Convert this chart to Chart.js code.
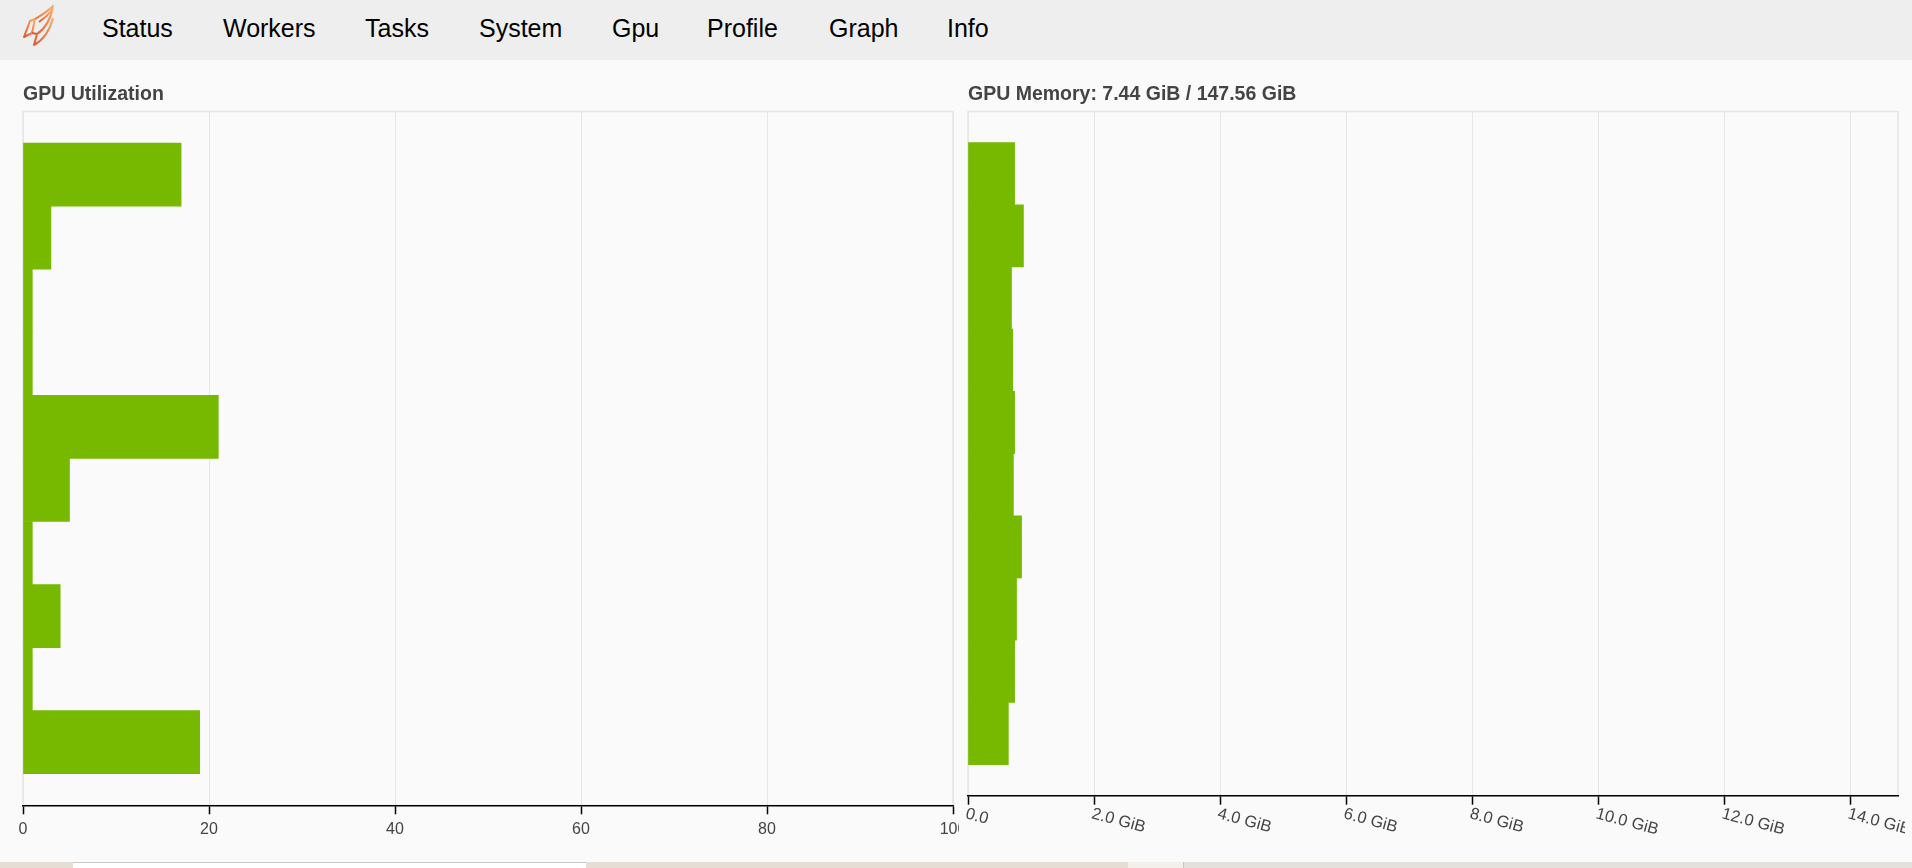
<!DOCTYPE html>
<html>
<head>
<meta charset="utf-8">
<title>Dask GPU</title>
<script src="https://cdn.jsdelivr.net/npm/chart.js@4"></script>
<style>
  html, body { margin: 0; padding: 0; }
  body {
    width: 1912px; height: 868px; overflow: hidden; position: relative;
    background: #fafafa; font-family: "Liberation Sans", Arial, sans-serif;
  }
  #nav { position: absolute; left: 0; top: 0; width: 1912px; height: 60px; background: #eeeeee; }
  #nav a { position: absolute; top: 0; line-height: 56px; font-size: 25px; color: #000; text-decoration: none; }
  #logo { position: absolute; left: 20px; top: 4px; }
  .panel { position: absolute; top: 60px; height: 802px; }
  #left { left: 0; width: 959px; }
  #right { left: 959px; width: 946px; }
  #strip { position: absolute; left: 0; top: 862px; width: 1912px; height: 6px; background: #e6ddd4; }
  #strip .box1 { position: absolute; left: 73px; top: 0; width: 513px; height: 6px; background: #fff; border-top: 1px solid #c9c9c9; box-sizing: border-box; }
  #strip .box2 { position: absolute; left: 1128px; top: 0; width: 55px; height: 6px; background: #f3efeb; }
  #strip .box3 { position: absolute; left: 1183px; top: 0; width: 729px; height: 6px; background: #e4e0dc; border-left: 1px solid #c9c9c9; }
</style>
</head>
<body>
<div id="nav">
  <svg id="logo" width="40" height="46" viewBox="0 0 40 46">
    <defs>
      <linearGradient id="lg" x1="0" y1="1" x2="1" y2="0">
        <stop offset="0" stop-color="#e2552e"/>
        <stop offset="1" stop-color="#f5b06a"/>
      </linearGradient>
    </defs>
    <g fill="none" stroke="url(#lg)" stroke-width="2" stroke-linejoin="round">
      <path d="M10,17 L4,33 L12,29 L15,15 Z"/>
      <path d="M15,15 C22,11 28,7 33,2 C31,14 26,24 17,30 L12,29"/>
      <path d="M17,30 L14,41 C23,36 30,26 33,14"/>
      <path d="M19,18 C25,14 29,10 32,6"/>
    </g>
  </svg>
  <a style="left:102px">Status</a>
  <a style="left:223px">Workers</a>
  <a style="left:365px">Tasks</a>
  <a style="left:479px">System</a>
  <a style="left:612px">Gpu</a>
  <a style="left:707px">Profile</a>
  <a style="left:829px">Graph</a>
  <a style="left:947px">Info</a>
</div>

<div class="panel" id="left"><canvas id="utilChart"></canvas></div>
<div class="panel" id="right"><canvas id="memChart"></canvas></div>

<div id="strip"><div class="box1"></div><div class="box2"></div><div class="box3"></div></div>

<script>
// GPU indices, top to bottom
const gpus = [0, 1, 2, 3, 4, 5, 6, 7, 8, 9];
// utilization in percent
const utilization = [17, 3, 1, 1, 21, 5, 1, 4, 1, 19];
// memory used per GPU, GiB
const memoryGiB = [0.74, 0.88, 0.69, 0.71, 0.74, 0.72, 0.85, 0.77, 0.74, 0.64];
const memUsed = 7.44;
const memTotal = 147.56;
const memPerGpu = 14.756;
const utilTickStep = 20;
const memTickLabels = ["0.0", "2.0 GiB", "4.0 GiB", "6.0 GiB", "8.0 GiB", "10.0 GiB", "12.0 GiB", "14.0 GiB"];

const fontFamily = '"Liberation Sans", Arial, sans-serif';
const green = "#76b900";

// light outline round the plot area, like the bokeh frame
const framePlugin = {
  id: "frame",
  beforeDraw(chart) {
    const a = chart.chartArea;
    const ctx = chart.ctx;
    ctx.save();
    ctx.strokeStyle = "#e5e5e5";
    ctx.lineWidth = 1.5;
    ctx.strokeRect(a.left, a.top, a.right - a.left, a.bottom - a.top);
    ctx.restore();
  }
};

// memory tick labels slanted down to the right
const slantLabels = {
  id: "slantLabels",
  afterDraw(chart) {
    const sx = chart.scales.x;
    const ctx = chart.ctx;
    ctx.save();
    ctx.fillStyle = "#444";
    ctx.font = "16.5px " + fontFamily;
    ctx.textAlign = "left";
    ctx.textBaseline = "top";
    sx.ticks.forEach(function(t) {
      ctx.save();
      ctx.translate(sx.getPixelForValue(t.value), sx.top + 10);
      ctx.rotate(Math.PI / 12);
      ctx.fillText(t.label, 0, 0);
      ctx.restore();
    });
    ctx.restore();
  }
};

function barData(values) {
  return gpus.map(function(g, i) { return { x: values[i], y: g }; });
}

function yScale() {
  return { type: "linear", min: -1, max: 10, reverse: true, offset: false, display: false };
}

function titleOpts(text) {
  return {
    display: true,
    text: text,
    align: "start",
    color: "#444",
    font: { family: fontFamily, size: 19.5, weight: "bold" },
    padding: { top: 23.3, bottom: 4.8 }
  };
}

const common = {
  responsive: true,
  maintainAspectRatio: false,
  animation: false,
  indexAxis: "y",
  events: []
};

new Chart(document.getElementById("utilChart"), {
  type: "bar",
  data: {
    datasets: [{
      data: barData(utilization),
      backgroundColor: green,
      borderWidth: 0,
      barPercentage: 1,
      categoryPercentage: 1
    }]
  },
  options: Object.assign({}, common, {
    layout: { padding: { left: 23, right: 6, top: 0, bottom: 17.5 } },
    plugins: { legend: { display: false }, tooltip: { enabled: false }, title: titleOpts("GPU Utilization") },
    scales: {
      x: {
        type: "linear", min: 0, max: 100,
        ticks: { stepSize: utilTickStep, color: "#444", font: { family: fontFamily, size: 16 }, padding: 5.5, maxRotation: 0 },
        grid: { color: "#e6e6e6", lineWidth: 1, tickColor: "#000", tickLength: 9, tickWidth: 1.5 },
        border: { color: "#000", width: 1.5 },
        afterFit: function(scale) { scale.paddingRight = 0; }
      },
      y: yScale()
    }
  }),
  plugins: [framePlugin]
});

new Chart(document.getElementById("memChart"), {
  type: "bar",
  data: {
    datasets: [{
      data: barData(memoryGiB),
      backgroundColor: green,
      borderWidth: 0,
      barPercentage: 1,
      categoryPercentage: 1
    }]
  },
  options: Object.assign({}, common, {
    layout: { padding: { left: 9, right: 7, top: 0, bottom: 57.3 } },
    plugins: {
      legend: { display: false }, tooltip: { enabled: false },
      title: titleOpts("GPU Memory: " + memUsed.toFixed(2) + " GiB / " + memTotal.toFixed(2) + " GiB")
    },
    scales: {
      x: {
        type: "linear", min: 0, max: memPerGpu,
        ticks: {
          stepSize: 2, includeBounds: false, display: false,
          callback: function(v) { return memTickLabels[Math.round(v / 2)]; }
        },
        grid: { color: "#e6e6e6", lineWidth: 1, tickColor: "#000", tickLength: 9, tickWidth: 1.5 },
        border: { color: "#000", width: 1.5 }
      },
      y: yScale()
    }
  }),
  plugins: [framePlugin, slantLabels]
});
</script>
</body>
</html>
